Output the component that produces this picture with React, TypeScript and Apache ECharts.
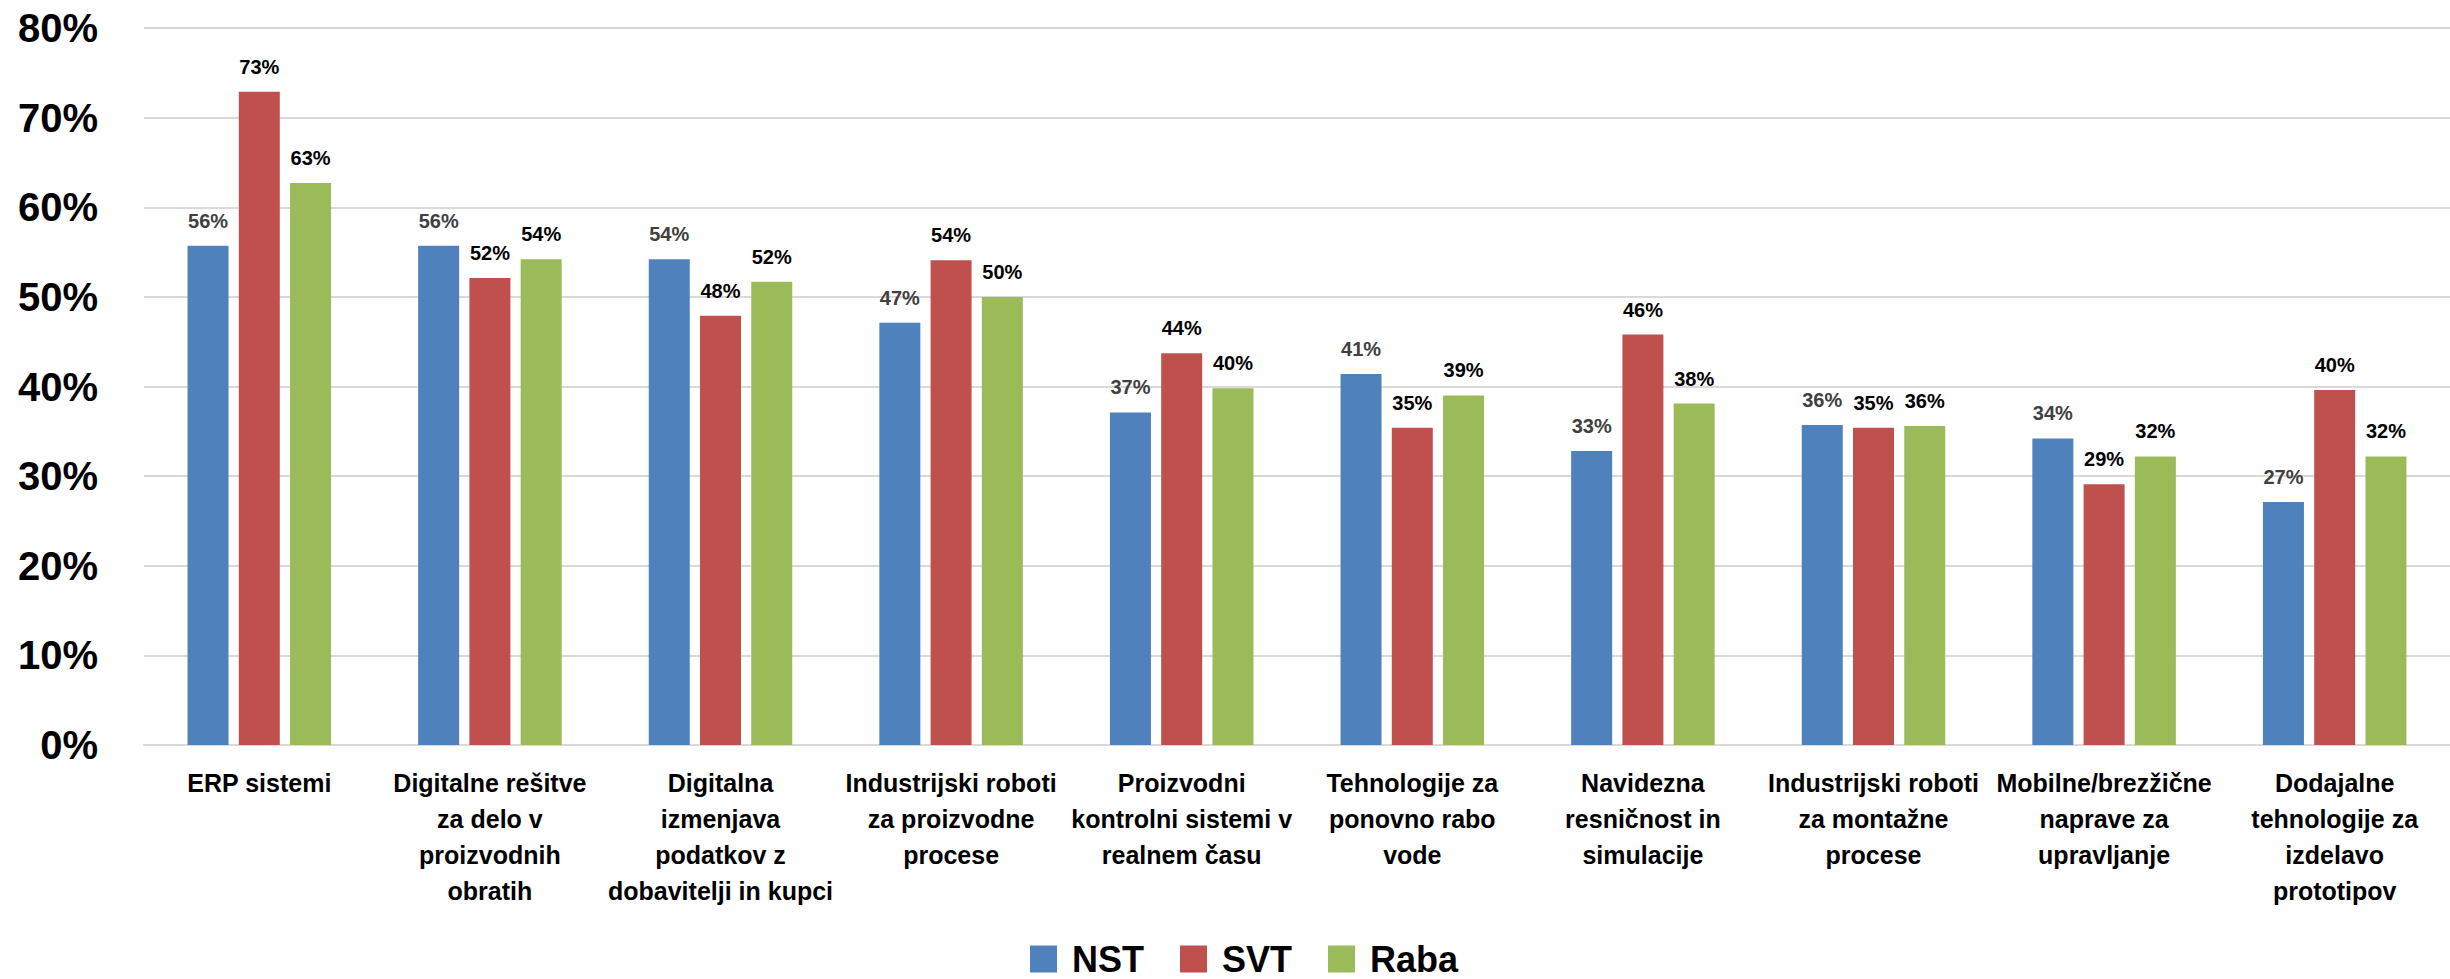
import React, { useEffect, useRef } from "react";
import * as echarts from "echarts";

const categories = [
  "ERP sistemi",
  "Digitalne rešitve\nza delo v\nproizvodnih\nobratih",
  "Digitalna\nizmenjava\npodatkov z\ndobavitelji in kupci",
  "Industrijski roboti\nza proizvodne\nprocese",
  "Proizvodni\nkontrolni sistemi v\nrealnem času",
  "Tehnologije za\nponovno rabo\nvode",
  "Navidezna\nresničnost in\nsimulacije",
  "Industrijski roboti\nza montažne\nprocese",
  "Mobilne/brezžične\nnaprave za\nupravljanje",
  "Dodajalne\ntehnologije za\nizdelavo\nprototipov",
];

const nstValues = [55.7, 55.7, 54.2, 47.1, 37.1, 41.4, 32.8, 35.7, 34.2, 27.1];
const svtValues = [72.9, 52.1, 47.9, 54.1, 43.7, 35.4, 45.8, 35.4, 29.1, 39.6];
const rabaValues = [62.7, 54.2, 51.7, 50.0, 39.8, 39.0, 38.1, 35.6, 32.2, 32.2];

const seriesNames = ["NST", "SVT", "Raba"];
const seriesColors = ["#4f81bd", "#c0504d", "#9bbb59"];
const labelColors = ["#404040", "#000000", "#000000"];

const yMin = 0;
const yMax = 80;
const yInterval = 10;

const FONT = "'Liberation Sans', Arial, sans-serif";

export default function App() {
  const ref = useRef<HTMLDivElement>(null);

  useEffect(() => {
    if (!ref.current) return;
    const chart = echarts.init(ref.current, null, { renderer: "svg" });
    const values = [nstValues, svtValues, rabaValues];
    chart.setOption({
      animation: false,
      backgroundColor: "#ffffff",
      textStyle: { fontFamily: FONT },
      grid: { left: 144, top: 28, width: 2310, height: 717, containLabel: false },
      legend: {
        data: seriesNames,
        left: 1030,
        top: 941,
        padding: 0,
        icon: "rect",
        itemWidth: 27,
        itemHeight: 27,
        itemGap: 36,
        textStyle: {
          fontFamily: FONT,
          fontSize: 36,
          lineHeight: 30,
          fontWeight: "bold",
          color: "#000",
          padding: [0, 0, 0, 10],
        },
      },
      xAxis: {
        type: "category",
        data: categories,
        axisTick: { show: false },
        axisLine: { show: true, lineStyle: { color: "#d9d9d9", width: 2 } },
        axisLabel: {
          interval: 0,
          fontFamily: FONT,
          fontSize: 25,
          fontWeight: "bold",
          color: "#000",
          lineHeight: 36,
          margin: 20,
        },
      },
      yAxis: {
        type: "value",
        min: yMin,
        max: yMax,
        interval: yInterval,
        axisLine: { show: false },
        axisTick: { show: false },
        splitLine: { lineStyle: { color: "#d9d9d9", width: 2 } },
        axisLabel: {
          formatter: "{value}%",
          fontFamily: FONT,
          fontSize: 40,
          fontWeight: "bold",
          color: "#000",
          margin: 46,
        },
      },
      series: seriesNames.map((name, i) => ({
        name,
        type: "bar",
        data: values[i],
        barWidth: 41,
        barGap: "25%",
        itemStyle: { color: seriesColors[i] },
        label: {
          show: true,
          position: "top",
          distance: 15,
          formatter: (p: any) => Math.round(p.value) + "%",
          fontFamily: FONT,
          fontSize: 20,
          fontWeight: "bold",
          color: labelColors[i],
        },
      })),
    });
    return () => chart.dispose();
  }, []);

  return (
    <div
      ref={ref}
      style={{ position: "absolute", left: 0, top: 0, width: 2450, height: 979 }}
    />
  );
}
